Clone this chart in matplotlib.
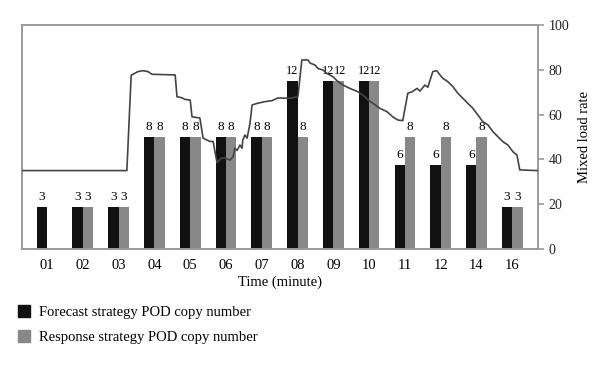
import matplotlib
matplotlib.use("Agg")
import matplotlib.pyplot as plt
from matplotlib.patches import Patch
import numpy as np

plt.rcParams['font.family'] = ['Liberation Serif', 'DejaVu Serif']

categories = ["01", "02", "03", "04", "05", "06", "07", "08", "09", "10", "11", "12", "14", "16"]
forecast = [3, 3, 3, 8, 8, 8, 8, 12, 12, 12, 6, 6, 6, 3]
response = [0, 3, 3, 8, 8, 8, 8, 8, 12, 12, 8, 8, 8, 3]

# Mixed load rate (x in category-index units, y in %)
load_x = [-0.70, 2.23, 2.35, 2.40, 2.54, 2.68, 2.82, 2.93, 3.58, 3.63, 3.77, 3.85, 4.00, 4.05,
          4.27, 4.36, 4.55, 4.64, 4.75, 4.86, 4.97, 5.11, 5.20, 5.25, 5.31, 5.39, 5.45, 5.47,
          5.53, 5.59, 5.67, 5.73, 5.87, 6.09, 6.28, 6.45, 6.79, 7.01, 7.12, 7.29, 7.35, 7.49,
          7.57, 7.71, 7.82, 7.99, 8.13, 8.27, 8.46, 8.69, 8.88, 8.97, 9.11, 9.30, 9.50, 9.66,
          9.80, 9.94, 10.08, 10.20, 10.34, 10.42, 10.56, 10.64, 10.78, 10.89, 10.98, 11.06,
          11.20, 11.34, 11.48, 11.62, 11.76, 11.90, 12.04, 12.18, 12.32, 12.46, 12.60, 12.74,
          12.88, 13.02, 13.13, 13.21, 13.72]
load_y = [35, 35, 77.5, 78, 79.2, 79.6, 79.2, 78, 77.7, 68, 67.5, 66.8, 66.5, 59,
          58.5, 49.5, 48, 48, 38.5, 40.5, 40.6, 39.7, 41.2, 45, 44, 46.4, 45, 48.7,
          50.9, 49.5, 56, 64.3, 65, 65.8, 66.2, 67.4, 67.3, 68, 84.4, 84.4, 83, 82.1,
          80.6, 79.9, 78.4, 76.9, 74.7, 73.2, 71.7, 70.2, 68, 66.5, 65, 62.8, 61.3, 59,
          57.6, 57.3, 69.5, 70.2, 71.7, 70.5, 73.2, 72.2, 79.2, 79.6, 77.7, 76.2,
          74.7, 72.5, 69.5, 67.3, 65, 62.8, 59.8, 56.8, 55.4, 52.4, 50.1, 47.9,
          46.4, 43.4, 42, 35.3, 35]

right_ticks = [0, 20, 40, 60, 80, 100]

black = "#111111"
grey = "#888888"
spine_c = "#9a9a9a"

fig = plt.figure(figsize=(6.0, 3.66), dpi=100)
ax = fig.add_axes([0.0367, 0.3197, 0.86, 0.612])
x = np.arange(len(categories))
w = 0.29
ax.bar(x - w/2, forecast, width=w, color=black, zorder=2)
ax.bar(x + w/2, response, width=w, color=grey, zorder=2)
for i in range(len(categories)):
    fs = 9.5 if forecast[i] < 10 else 8.8
    if forecast[i] > 0:
        ax.text(x[i] - w/2, forecast[i] + 0.25, str(forecast[i]), ha='center', va='bottom', fontsize=fs)
    fs = 9.5 if response[i] < 10 else 8.8
    if response[i] > 0:
        ax.text(x[i] + w/2 + (0.03 if response[i] >= 10 else 0), response[i] + 0.25, str(response[i]),
                ha='center', va='bottom', fontsize=fs)

ax.set_xlim(-0.70, 13.72)
ax.set_ylim(0, 16)
ax.set_yticks([])
ax.set_xticks(x)
ax.set_xticklabels(categories, fontsize=10.5)
ax.tick_params(axis='x', length=0, pad=7)
ax.set_xlabel("Time (minute)", fontsize=10.5, labelpad=3)
for s in ax.spines.values():
    s.set_color(spine_c)
    s.set_linewidth(1.2)

ax2 = ax.twinx()
ax2.plot(load_x, load_y, color="#444444", lw=1.2, zorder=3)
ax2.set_ylim(0, 100)
ax2.set_yticks(right_ticks)
ax2.tick_params(axis='y', colors=spine_c, length=4, width=1.2, labelsize=10, labelcolor="#222222")
ax2.set_ylabel("Mixed load rate", fontsize=10.5, labelpad=6)
for s in ax2.spines.values():
    s.set_color(spine_c)
    s.set_linewidth(1.2)

handles = [Patch(facecolor=black, edgecolor=black), Patch(facecolor=grey, edgecolor=grey)]
fig.legend(handles, ["Forecast strategy POD copy number", "Response strategy POD copy number"],
           loc='upper left', bbox_to_anchor=(0.008, 0.203), frameon=False, fontsize=10.5,
           handlelength=0.85, handleheight=0.9, handletextpad=0.6, labelspacing=0.75)

fig.savefig("out.png", dpi=100)
